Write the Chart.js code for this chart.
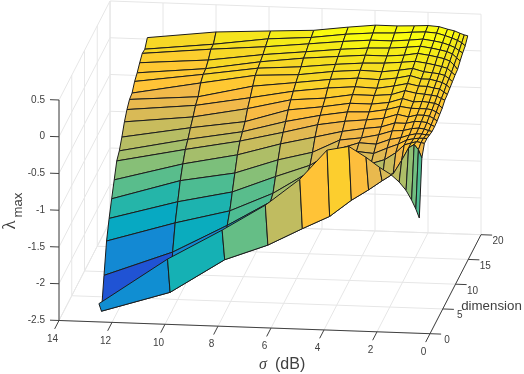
<!DOCTYPE html>
<html>
<head>
<meta charset="utf-8">
<title>lambda max surface</title>
<script src="https://cdn.jsdelivr.net/npm/chart.js@4/dist/chart.umd.min.js"></script>
<style>
html, body { margin: 0; padding: 0; background: #fff; }
canvas { display: block; }
</style>
</head>
<body>
<canvas id="surface" width="524" height="374"></canvas>
<script>
// sigma in dB-spaced steps, large to small
var sigmaValues = [12.59, 10, 7.94, 6.31, 5.01, 3.98, 3.16, 2.51, 2, 1.58, 1.26, 1, 0.79, 0.63, 0.5];
var dimensionValues = [1, 2, 3, 4, 5, 6, 7, 8, 9, 10, 11, 12, 13, 14, 15, 16, 17, 18, 19, 20];

// one row per sigma, one value per dimension
var lambdaMax = [
    [-2.32, -2.49, -2.07, -1.67, -1.43, -1.23, -1.04, -0.85, -0.78, -0.66, -0.52, -0.42, -0.35, -0.33, -0.24, -0.19, -0.12, -0.06, -0.07, 0.02],
    [-1.68, -2.20, -1.72, -1.39, -1.17, -0.95, -0.79, -0.66, -0.59, -0.50, -0.42, -0.33, -0.28, -0.16, -0.11, -0.10, -0.05, 0.03, 0.03, 0.13],
    [-1.26, -1.73, -1.33, -1.20, -1.01, -0.82, -0.64, -0.52, -0.46, -0.39, -0.28, -0.20, -0.11, -0.03, 0, 0.02, 0.05, 0.09, 0.13, 0.17],
    [-0.90, -1.51, -0.99, -0.94, -0.78, -0.62, -0.47, -0.38, -0.30, -0.21, -0.14, -0.09, -0.04, 0, 0.04, 0.09, 0.11, 0.15, 0.17, 0.20],
    [-0.53, -1.27, -0.65, -0.65, -0.61, -0.50, -0.36, -0.26, -0.20, -0.15, -0.10, -0.03, 0.02, 0.06, 0.09, 0.13, 0.16, 0.20, 0.23, 0.26],
    [-0.12, -1.09, -0.48, -0.43, -0.38, -0.32, -0.27, -0.20, -0.14, -0.09, -0.04, 0, 0.05, 0.09, 0.12, 0.16, 0.19, 0.23, 0.26, 0.30],
    [-0.06, -0.86, -0.38, -0.33, -0.28, -0.28, -0.22, -0.17, -0.13, -0.09, -0.04, -0.01, 0.04, 0.08, 0.13, 0.16, 0.20, 0.23, 0.27, 0.30],
    [-0.20, -0.71, -0.42, -0.35, -0.29, -0.23, -0.19, -0.14, -0.09, -0.06, -0.02, 0.03, 0.07, 0.11, 0.15, 0.18, 0.22, 0.25, 0.29, 0.31],
    [-0.33, -0.58, -0.36, -0.27, -0.22, -0.17, -0.13, -0.08, -0.04, 0, 0.04, 0.07, 0.11, 0.14, 0.17, 0.21, 0.24, 0.27, 0.30, 0.32],
    [-0.42, -0.48, -0.26, -0.21, -0.19, -0.16, -0.13, -0.11, -0.06, -0.04, 0.01, 0.04, 0.07, 0.10, 0.15, 0.19, 0.22, 0.25, 0.29, 0.31],
    [-0.52, -0.29, -0.15, -0.15, -0.15, -0.13, -0.10, -0.08, -0.06, -0.03, 0, 0.04, 0.07, 0.09, 0.13, 0.17, 0.20, 0.23, 0.26, 0.28],
    [-0.63, -0.12, -0.12, -0.13, -0.13, -0.12, -0.10, -0.08, -0.06, -0.04, -0.01, 0.02, 0.05, 0.08, 0.11, 0.15, 0.18, 0.20, 0.23, 0.26],
    [-0.76, -0.07, -0.10, -0.12, -0.13, -0.13, -0.11, -0.09, -0.07, -0.05, -0.02, 0.01, 0.03, 0.06, 0.09, 0.12, 0.15, 0.17, 0.20, 0.23],
    [-0.88, -0.14, -0.11, -0.12, -0.14, -0.15, -0.14, -0.12, -0.10, -0.07, -0.05, -0.03, 0, 0.02, 0.04, 0.07, 0.10, 0.13, 0.17, 0.21],
    [-1.00, -0.25, -0.12, -0.12, -0.14, -0.16, -0.16, -0.15, -0.13, -0.11, -0.07, -0.06, -0.04, -0.02, 0, 0.01, 0.06, 0.10, 0.13, 0.20]
];

var sigmaTicks = [14, 12, 10, 8, 6, 4, 2, 0];
var dimensionTicks = [0, 5, 10, 15, 20];
var lambdaTicks = [-2.5, -2, -1.5, -1, -0.5, 0, 0.5];
var lambdaLimits = [-2.49, 0.27];

var parula = [
    [.2081,.1663,.5292],[.2116,.1898,.5777],[.2123,.2138,.6270],[.2081,.2386,.6771],[.1959,.2645,.7279],[.1707,.2919,.7792],[.1253,.3242,.8303],[.0591,.3598,.8683],
    [.0117,.3875,.8820],[.0060,.4086,.8828],[.0165,.4266,.8786],[.0329,.4430,.8720],[.0498,.4586,.8641],[.0629,.4737,.8554],[.0723,.4887,.8467],[.0779,.5040,.8384],
    [.0793,.5200,.8312],[.0749,.5375,.8263],[.0641,.5570,.8240],[.0488,.5772,.8228],[.0343,.5966,.8199],[.0265,.6137,.8135],[.0239,.6287,.8038],[.0231,.6418,.7913],
    [.0228,.6535,.7768],[.0267,.6642,.7607],[.0384,.6743,.7436],[.0590,.6838,.7254],[.0843,.6928,.7062],[.1133,.7015,.6859],[.1453,.7098,.6646],[.1801,.7177,.6424],
    [.2178,.7250,.6193],[.2586,.7317,.5954],[.3022,.7376,.5712],[.3482,.7424,.5473],[.3953,.7459,.5244],[.4420,.7481,.5033],[.4871,.7491,.4840],[.5300,.7491,.4661],
    [.5709,.7485,.4494],[.6099,.7473,.4337],[.6473,.7456,.4188],[.6834,.7435,.4044],[.7184,.7411,.3905],[.7525,.7384,.3768],[.7858,.7356,.3633],[.8185,.7327,.3498],
    [.8507,.7299,.3360],[.8824,.7274,.3217],[.9139,.7258,.3063],[.9450,.7261,.2886],[.9739,.7314,.2666],[.9938,.7455,.2403],[.9990,.7653,.2164],[.9955,.7861,.1967],
    [.9880,.8066,.1794],[.9789,.8271,.1633],[.9697,.8481,.1475],[.9626,.8705,.1309],[.9589,.8949,.1132],[.9598,.9218,.0948],[.9661,.9514,.0755],[.9763,.9831,.0538]
];

var GRID = '#e6e6e6', AXIS = '#404040', EDGE = '#1c1c1c', TEXT = '#404040';

// orthographic view: (sigma, dimension, lambda) to the flat plane the chart scales cover
function project(sigma, dim, lambda) {
    return {
        x: 430 - 26.5 * sigma + 2.55 * dim,
        y: 333.7 - 0.943 * sigma - 4.95 * dim - 73.5 * (lambda + 2.5)
    };
}

function faceColor(v) {
    var t = (v - lambdaLimits[0]) / (lambdaLimits[1] - lambdaLimits[0]);
    var c = parula[Math.max(0, Math.min(63, Math.floor(t * 64)))];
    return 'rgb(' + Math.round(c[0] * 255) + ',' + Math.round(c[1] * 255) + ',' + Math.round(c[2] * 255) + ')';
}

function segment(points, color) {
    return { data: points, borderColor: color, borderWidth: 1, showLine: true, pointRadius: 0, clip: false, tension: 0 };
}

var datasets = [];

// walls and floor grid
lambdaTicks.forEach(function (z) {
    datasets.push(segment([project(14, 0, z), project(14, 20, z), project(0, 20, z)], GRID));
});
sigmaTicks.forEach(function (s) {
    datasets.push(segment([project(s, 0, -2.5), project(s, 20, -2.5), project(s, 20, 0.5)], GRID));
});
dimensionTicks.forEach(function (d) {
    datasets.push(segment([project(0, d, -2.5), project(14, d, -2.5), project(14, d, 0.5)], GRID));
});

// axes and tick marks
datasets.push(segment([project(14, 0, -2.5), project(14, 0, 0.5)], AXIS));
datasets.push(segment([project(14, 0, -2.5), project(0, 0, -2.5)], AXIS));
datasets.push(segment([project(0, 0, -2.5), project(0, 20, -2.5)], AXIS));
lambdaTicks.forEach(function (z) {
    datasets.push(segment([project(14, 0, z), project(14.34, 0, z)], AXIS));
});
sigmaTicks.forEach(function (s) {
    datasets.push(segment([project(s, 0, -2.5), project(s, -1.7, -2.5)], AXIS));
});
dimensionTicks.forEach(function (d) {
    datasets.push(segment([project(0, d, -2.5), project(-0.42, d, -2.5)], AXIS));
});

// surface faces, far to near, each coloured from its low-sigma low-dimension corner
for (var j = dimensionValues.length - 2; j >= 0; j--) {
    for (var i = 0; i < sigmaValues.length - 1; i++) {
        var d0 = dimensionValues[j], d1 = dimensionValues[j + 1];
        var s0 = sigmaValues[i], s1 = sigmaValues[i + 1];
        var face = segment([
            project(s0, d0, lambdaMax[i][j]),
            project(s1, d0, lambdaMax[i + 1][j]),
            project(s1, d1, lambdaMax[i + 1][j + 1]),
            project(s0, d1, lambdaMax[i][j + 1]),
            project(s0, d0, lambdaMax[i][j])
        ], EDGE);
        face.faceFill = faceColor(lambdaMax[i + 1][j]);
        face.borderJoinStyle = 'round';
        datasets.push(face);
    }
}

// the library paints high order first, so later datasets land on top
datasets.forEach(function (ds, k) { ds.order = datasets.length - k; });

var facePlugin = {
    id: 'facePlugin',
    beforeDatasetDraw: function (chart, args) {
        var ds = chart.data.datasets[args.index];
        if (!ds.faceFill) return;
        var pts = args.meta.data, ctx = chart.ctx;
        ctx.save();
        ctx.beginPath();
        pts.forEach(function (p, n) {
            if (n === 0) ctx.moveTo(p.x, p.y); else ctx.lineTo(p.x, p.y);
        });
        ctx.closePath();
        ctx.fillStyle = ds.faceFill;
        ctx.fill();
        ctx.restore();
    }
};

var labelPlugin = {
    id: 'labelPlugin',
    afterDraw: function (chart) {
        var ctx = chart.ctx, sx = chart.scales.x, sy = chart.scales.y;
        function put(text, p, dx, dy, font, align) {
            ctx.font = font;
            ctx.textAlign = align || 'center';
            ctx.textBaseline = 'middle';
            ctx.fillText(text, sx.getPixelForValue(p.x) + dx, sy.getPixelForValue(p.y) + dy);
        }
        ctx.save();
        ctx.fillStyle = TEXT;
        var tickFont = '10px "Liberation Sans", Arial, sans-serif';
        lambdaTicks.forEach(function (z) {
            put(String(z), project(14, 0, z), -14, 0, tickFont, 'right');
        });
        sigmaTicks.forEach(function (s) {
            put(String(s), project(s, 0, -2.5), -6.5, 18.5, tickFont);
        });
        dimensionTicks.forEach(function (d) {
            put(String(d), project(0, d, -2.5), 17, 6.6, tickFont);
        });

        put('dimension', { x: 491.5, y: 306.3 }, 0, 0, '13.3px "Liberation Sans", Arial, sans-serif');
        put('\u03c3', { x: 263, y: 364.5 }, 0, 0, 'italic 16px "Liberation Serif", serif');
        put('(dB)', { x: 275, y: 364.5 }, 0, 0, '16px "Liberation Sans", Arial, sans-serif', 'left');

        ctx.translate(sx.getPixelForValue(15), sy.getPixelForValue(225));
        ctx.rotate(-Math.PI / 2);
        ctx.textAlign = 'center';
        ctx.textBaseline = 'alphabetic';
        ctx.font = '19px "Liberation Serif", serif';
        ctx.fillText('\u03bb', 0, 0);
        ctx.font = '13.2px "Liberation Sans", Arial, sans-serif';
        ctx.fillText('max', 20, 7);
        ctx.restore();
    }
};

new Chart(document.getElementById('surface'), {
    type: 'scatter',
    data: { datasets: datasets },
    options: {
        responsive: false,
        animation: false,
        layout: { padding: 0 },
        plugins: { legend: { display: false }, tooltip: { enabled: false } },
        scales: {
            x: { type: 'linear', display: false, min: 0, max: 524 },
            y: { type: 'linear', display: false, min: 0, max: 374, reverse: true }
        }
    },
    plugins: [facePlugin, labelPlugin]
});
</script>
</body>
</html>
